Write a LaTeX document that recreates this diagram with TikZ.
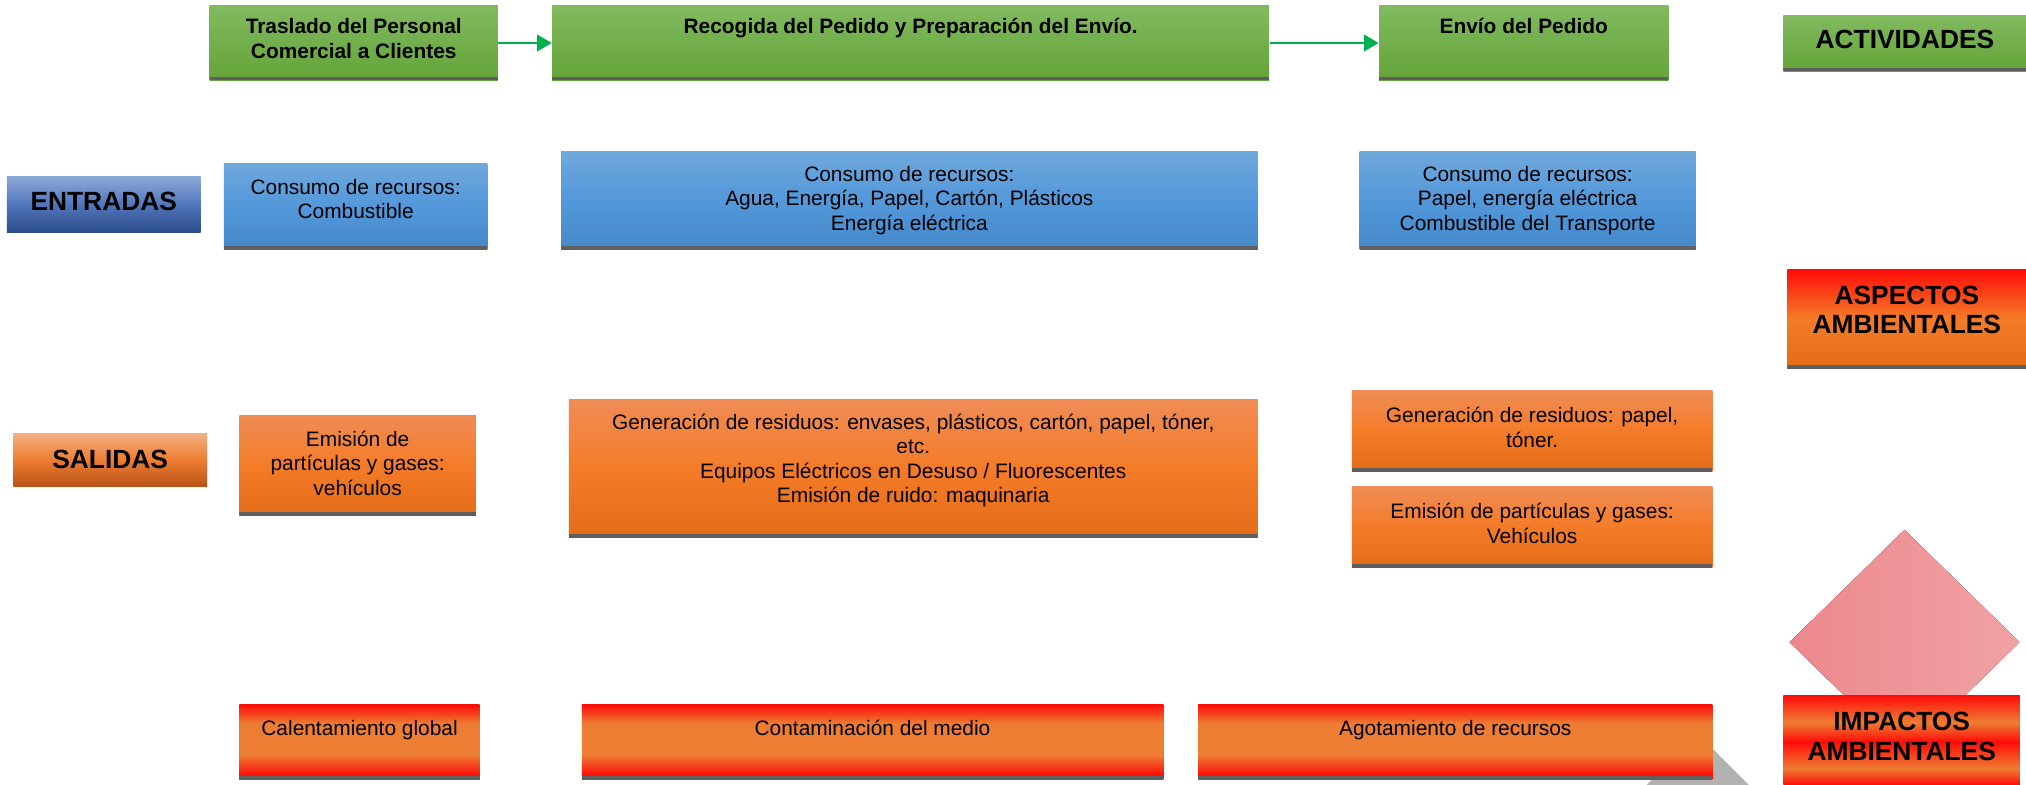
\documentclass[tikz,border=0pt]{standalone}
\usepackage{fontspec}
\setmainfont{Liberation Sans}
\usetikzlibrary{arrows.meta}
\newlength{\px}\setlength{\px}{0.025cm}
\newcommand{\caja}[4]{\parbox[t][#2\px][t]{#1\px}{\centering\vspace*{\dimexpr#3\px-12pt\relax}\rule{0pt}{12pt}#4\par}}
\newcommand{\fn}{\fontsize{11.5}{13.5}\selectfont}
\newcommand{\fh}{\fontsize{14.5}{16.4}\selectfont\bfseries}
\definecolor{verdeA}{RGB}{130,186,96}
\definecolor{verdeB}{RGB}{99,164,56}
\definecolor{verdeflecha}{RGB}{0,176,80}
\definecolor{azulA}{RGB}{111,168,220}
\definecolor{azulM}{RGB}{83,152,218}
\definecolor{azulB}{RGB}{68,136,200}
\definecolor{naranjaA}{RGB}{240,140,85}
\definecolor{naranjaM}{RGB}{244,124,40}
\definecolor{naranjaB}{RGB}{228,108,24}
\definecolor{entA}{RGB}{142,170,219}
\definecolor{entM}{RGB}{82,118,188}
\definecolor{entB}{RGB}{42,74,135}
\definecolor{salA}{RGB}{244,176,130}
\definecolor{salM}{RGB}{238,125,50}
\definecolor{salB}{RGB}{185,84,24}
\definecolor{rojo}{RGB}{255,12,8}
\definecolor{naranjaI}{RGB}{237,125,50}
\definecolor{gris}{RGB}{95,95,95}
\definecolor{grisclaro}{RGB}{178,178,178}
\definecolor{rosaA}{RGB}{236,136,140}
\definecolor{rosaB}{RGB}{241,162,165}
\pgfdeclareverticalshading{bandas}{100bp}{color(0bp)=(rojo); color(25bp)=(rojo); color(34bp)=(naranjaI); color(49bp)=(rojo); color(60bp)=(naranjaI); color(75bp)=(rojo); color(100bp)=(rojo)}
\pgfdeclareverticalshading{franjas}{100bp}{color(0bp)=(rojo); color(28bp)=(rojo); color(41.5bp)=(naranjaI); color(62.5bp)=(naranjaI); color(75bp)=(rojo); color(100bp)=(rojo)}
\begin{document}
\begin{tikzpicture}[x=0.025cm,y=-0.025cm]
\tikzstyle{every node}+=[inner sep=0pt,anchor=north west]
\tikzstyle{sombra}=[path picture={\fill[gris] (path picture bounding box.south west) rectangle ([yshift=0.075cm]path picture bounding box.south east);}]
\tikzstyle{verde}=[top color=verdeA,bottom color=verdeB,sombra,font=\fn\bfseries]
\tikzstyle{azul}=[top color=azulA,bottom color=azulB,middle color=azulM,sombra,font=\fn]
\tikzstyle{naranja}=[top color=naranjaA,bottom color=naranjaB,middle color=naranjaM,sombra,font=\fn]
\tikzstyle{impacto}=[shading=franjas,sombra,font=\fn]
\tikzstyle{flecha}=[draw=verdeflecha,line width=1.4pt,-{Triangle[length=8pt,width=9pt]}]
\useasboundingbox (0,0) rectangle (1568,607);
\fill[left color=rosaA,right color=rosaB] (1474,410) -- (1563,497) -- (1474,584) -- (1385,497) -- cycle;
\fill[grisclaro] (1314,568) -- (1360,614) -- (1314,660) -- (1268,614) -- cycle;
\node[verde] (tras) at (162,4) {\caja{223}{58}{22}{Traslado del Personal\\Comercial a Clientes}};
\node[verde] (rec) at (427,4) {\caja{555}{58}{22}{Recogida del Pedido y Preparación del Envío.}};
\node[verde] (env) at (1067,4) {\caja{224}{58}{22}{Envío del Pedido}};
\node[verde,font=\fh] (act) at (1380,12) {\caja{188}{43}{25}{ACTIVIDADES}};
\draw[flecha] (tras) -- (rec);
\draw[flecha] (rec) -- (env);
\node[top color=entA,bottom color=entB,middle color=entM,font=\fh] (ent) at (5,136) {\caja{150}{44}{27}{ENTRADAS}};
\node[azul] (cons1) at (173,126) {\caja{204}{67}{24}{Consumo de recursos:\\Combustible}};
\node[azul] (cons2) at (434,117) {\caja{539}{76}{23}{Consumo de recursos:\\Agua, Energía, Papel, Cartón, Plásticos\\Energía eléctrica}};
\node[azul] (cons3) at (1052,117) {\caja{260}{76}{23}{Consumo de recursos:\\Papel, energía eléctrica\\Combustible del Transporte}};
\node[top color=rojo,bottom color=naranjaB,middle color=naranjaM,sombra,font=\fh] (asp) at (1383,208) {\caja{185}{77}{27}{ASPECTOS\\AMBIENTALES}};
\node[top color=salA,bottom color=salB,middle color=salM,font=\fh] (sal) at (10,335) {\caja{150}{41}{27}{SALIDAS}};
\node[naranja] (emi1) at (185,321) {\caja{183}{78}{24}{Emisión de\\partículas y gases:\\vehículos}};
\node[naranja] (gen2) at (440,309) {\caja{533}{107}{23}{Generación de residuos: envases, plásticos, cartón, papel, tóner,\\etc.\\Equipos Eléctricos en Desuso / Fluorescentes\\Emisión de ruido: maquinaria}};
\node[naranja] (gen3) at (1046,302) {\caja{279}{63}{25}{Generación de residuos: papel,\\tóner.}};
\node[naranja] (emi3) at (1046,376) {\caja{279}{63}{25}{Emisión de partículas y gases:\\Vehículos}};
\node[shading=bandas,font=\fh] (imp) at (1380,538) {\caja{183}{69}{27}{IMPACTOS\\AMBIENTALES}};
\node[impacto] (cal) at (185,545) {\caja{186}{58}{24}{Calentamiento global}};
\node[impacto] (con) at (450,545) {\caja{450}{58}{24}{Contaminación del medio}};
\node[impacto] (ago) at (927,545) {\caja{398}{58}{24}{Agotamiento de recursos}};
\end{tikzpicture}
\end{document}
